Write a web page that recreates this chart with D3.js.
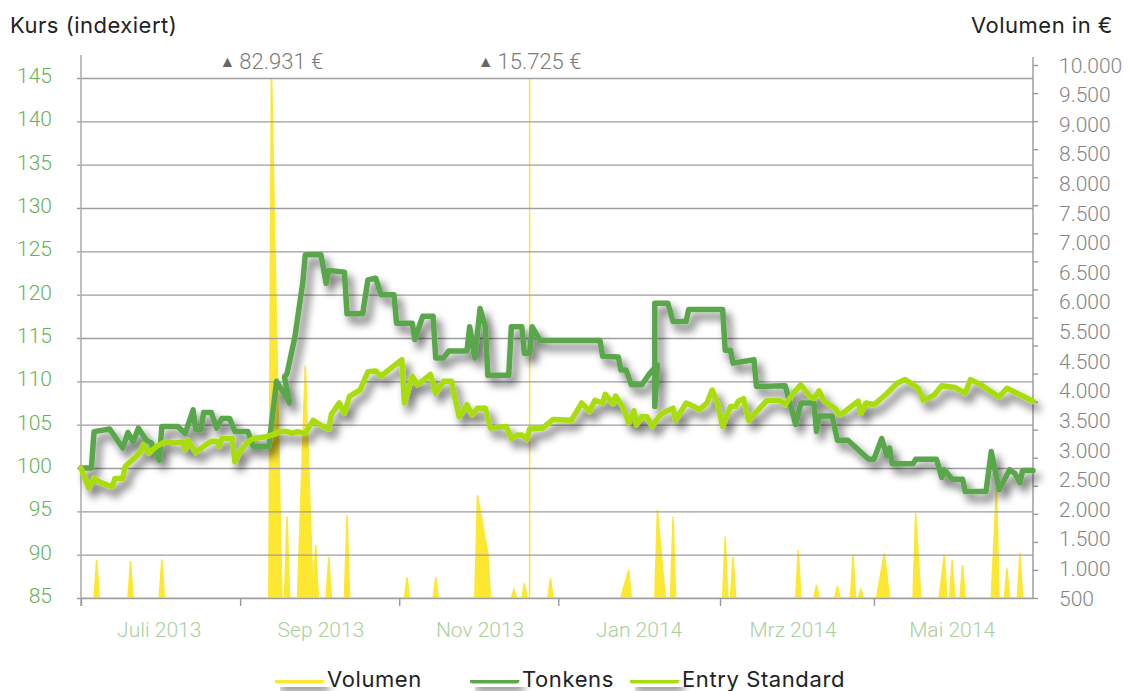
<!DOCTYPE html>
<html>

<head>
    <meta charset="utf-8">
    <title>Kurs und Volumen</title>
    <script src="https://d3js.org/d3.v7.min.js"></script>
    <style>
        body { margin: 0; background: #fff; }
        text { font-family: Inter, "Liberation Sans", Arial, sans-serif; }
        .num { font-family: Roboto, "Liberation Sans", sans-serif; font-weight: 300; letter-spacing: 0; }
    </style>
</head>

<body>
    <script>
        // indexed price, Tonkens
        const tonkens = [
            ['2013-06-01', 100.0], ['2013-06-05', 100.0], ['2013-06-06', 104.2], ['2013-06-12', 104.5],
            ['2013-06-17', 102.3], ['2013-06-19', 104.1], ['2013-06-21', 103.0], ['2013-06-23', 104.6],
            ['2013-06-26', 103.2], ['2013-06-28', 102.9], ['2013-07-01', 100.9], ['2013-07-02', 104.8],
            ['2013-07-08', 104.8], ['2013-07-11', 104.0], ['2013-07-14', 106.7], ['2013-07-15', 104.4],
            ['2013-07-17', 104.4], ['2013-07-18', 106.4], ['2013-07-21', 106.4], ['2013-07-23', 104.6],
            ['2013-07-25', 105.7], ['2013-07-28', 105.7], ['2013-07-30', 104.2], ['2013-08-04', 104.2],
            ['2013-08-06', 102.5], ['2013-08-12', 102.5], ['2013-08-15', 110.0], ['2013-08-20', 107.5],
            ['2013-08-18', 110.5], ['2013-08-19', 110.9], ['2013-08-22', 115.1], ['2013-08-25', 121.3],
            ['2013-08-26', 124.6], ['2013-09-01', 124.6], ['2013-09-03', 121.3], ['2013-09-04', 122.8],
            ['2013-09-10', 122.6], ['2013-09-11', 117.8], ['2013-09-17', 117.8], ['2013-09-19', 121.7],
            ['2013-09-22', 121.9], ['2013-09-24', 120.0], ['2013-09-29', 120.0], ['2013-09-30', 116.7],
            ['2013-10-06', 116.7], ['2013-10-07', 114.8], ['2013-10-10', 117.5], ['2013-10-14', 117.5],
            ['2013-10-15', 112.7], ['2013-10-18', 112.7], ['2013-10-20', 113.5], ['2013-10-27', 113.5],
            ['2013-10-28', 116.3], ['2013-10-30', 112.7], ['2013-11-01', 118.4], ['2013-11-03', 116.3],
            ['2013-11-04', 110.7], ['2013-11-12', 110.7], ['2013-11-13', 116.3], ['2013-11-17', 116.3],
            ['2013-11-18', 113.2], ['2013-11-20', 113.2], ['2013-11-21', 116.3], ['2013-11-24', 114.7],
            ['2013-12-17', 114.7], ['2013-12-18', 112.9], ['2013-12-24', 112.8], ['2013-12-25', 111.3],
            ['2013-12-27', 111.3], ['2013-12-29', 109.6], ['2014-01-02', 109.6], ['2014-01-05', 110.9],
            ['2014-01-08', 111.9], ['2014-01-07', 107.1], ['2014-01-07', 119.0], ['2014-01-12', 119.0],
            ['2014-01-14', 116.9], ['2014-01-19', 116.9], ['2014-01-20', 118.3], ['2014-02-02', 118.3],
            ['2014-02-03', 113.6], ['2014-02-05', 113.6], ['2014-02-06', 112.1], ['2014-02-14', 112.5],
            ['2014-02-15', 109.4], ['2014-02-26', 109.5], ['2014-02-28', 107.3], ['2014-03-02', 105.0],
            ['2014-03-04', 107.5], ['2014-03-09', 107.5], ['2014-03-10', 104.2], ['2014-03-11', 106.0],
            ['2014-03-16', 106.0], ['2014-03-18', 103.2], ['2014-03-22', 103.2], ['2014-03-30', 101.0],
            ['2014-04-01', 101.0], ['2014-04-04', 103.4], ['2014-04-06', 101.4], ['2014-04-07', 102.3],
            ['2014-04-08', 100.5], ['2014-04-16', 100.5], ['2014-04-17', 101.0], ['2014-04-25', 101.0],
            ['2014-04-27', 98.9], ['2014-04-28', 99.8], ['2014-05-01', 98.7], ['2014-05-05', 98.7],
            ['2014-05-06', 97.3], ['2014-05-14', 97.3], ['2014-05-16', 101.9], ['2014-05-19', 97.5],
            ['2014-05-23', 99.8], ['2014-05-25', 99.4], ['2014-05-27', 98.3], ['2014-05-28', 99.7],
            ['2014-06-01', 99.7]
        ]

        // indexed price, Entry Standard
        const entryStandard = [
            ['2013-06-01', 100.0], ['2013-06-04', 97.7], ['2013-06-06', 98.8], ['2013-06-08', 98.4],
            ['2013-06-13', 97.8], ['2013-06-14', 98.8], ['2013-06-17', 98.8], ['2013-06-18', 100.2],
            ['2013-06-22', 101.3], ['2013-06-24', 102.0], ['2013-06-25', 102.7], ['2013-06-27', 101.7],
            ['2013-06-30', 102.5], ['2013-07-03', 103.0], ['2013-07-05', 103.0], ['2013-07-07', 102.9],
            ['2013-07-10', 103.0], ['2013-07-11', 102.1], ['2013-07-12', 103.2], ['2013-07-15', 101.8],
            ['2013-07-18', 102.5], ['2013-07-21', 103.1], ['2013-07-23', 103.1], ['2013-07-24', 102.5],
            ['2013-07-25', 103.4], ['2013-07-29', 103.4], ['2013-07-30', 100.7], ['2013-08-01', 101.9],
            ['2013-08-04', 103.0], ['2013-08-06', 103.4], ['2013-08-11', 103.6], ['2013-08-14', 103.9],
            ['2013-08-16', 104.2], ['2013-08-19', 104.2], ['2013-08-21', 104.0], ['2013-08-23', 104.2],
            ['2013-08-26', 104.0], ['2013-08-29', 105.5], ['2013-09-01', 104.9], ['2013-09-04', 104.5],
            ['2013-09-05', 106.2], ['2013-09-08', 107.5], ['2013-09-10', 106.3], ['2013-09-12', 108.3],
            ['2013-09-16', 109.0], ['2013-09-19', 111.1], ['2013-09-22', 111.2], ['2013-09-24', 110.6],
            ['2013-10-02', 112.5], ['2013-10-03', 107.5], ['2013-10-06', 110.6], ['2013-10-08', 109.6],
            ['2013-10-13', 110.8], ['2013-10-15', 108.6], ['2013-10-18', 110.0], ['2013-10-21', 110.0],
            ['2013-10-24', 105.9], ['2013-10-27', 107.3], ['2013-10-29', 106.1], ['2013-10-31', 106.9],
            ['2013-11-03', 106.9], ['2013-11-05', 104.6], ['2013-11-11', 104.8], ['2013-11-13', 103.4],
            ['2013-11-15', 103.8], ['2013-11-17', 103.8], ['2013-11-19', 103.3], ['2013-11-20', 104.5],
            ['2013-11-25', 104.6], ['2013-11-29', 105.6], ['2013-12-06', 105.5], ['2013-12-10', 107.5],
            ['2013-12-13', 106.5], ['2013-12-15', 107.8], ['2013-12-18', 107.5], ['2013-12-19', 108.5],
            ['2013-12-22', 107.4], ['2013-12-23', 108.3], ['2013-12-26', 106.9], ['2013-12-28', 105.2],
            ['2013-12-30', 106.6], ['2013-12-31', 105.0], ['2014-01-02', 105.9], ['2014-01-04', 105.9],
            ['2014-01-06', 104.8], ['2014-01-09', 106.1], ['2014-01-11', 106.5], ['2014-01-14', 106.9],
            ['2014-01-15', 105.5], ['2014-01-19', 107.5], ['2014-01-22', 107.1], ['2014-01-24', 106.7],
            ['2014-01-27', 107.5], ['2014-01-29', 109.0], ['2014-01-31', 107.5], ['2014-02-02', 104.8],
            ['2014-02-05', 107.1], ['2014-02-07', 107.1], ['2014-02-08', 107.7], ['2014-02-10', 108.0],
            ['2014-02-12', 105.5], ['2014-02-15', 106.5], ['2014-02-19', 107.8], ['2014-02-21', 107.8],
            ['2014-02-24', 107.8], ['2014-02-26', 107.3], ['2014-03-01', 108.6], ['2014-03-04', 109.6],
            ['2014-03-07', 108.4], ['2014-03-09', 108.0], ['2014-03-11', 108.9], ['2014-03-13', 107.7],
            ['2014-03-17', 106.9], ['2014-03-19', 106.1], ['2014-03-26', 107.7], ['2014-03-27', 106.3],
            ['2014-03-29', 107.5], ['2014-04-01', 107.3], ['2014-04-06', 108.6], ['2014-04-10', 109.8],
            ['2014-04-13', 110.2], ['2014-04-17', 109.4], ['2014-04-18', 109.2], ['2014-04-20', 107.8],
            ['2014-04-24', 108.4], ['2014-04-27', 109.5], ['2014-05-02', 109.3], ['2014-05-06', 108.6],
            ['2014-05-08', 110.2], ['2014-05-12', 109.6], ['2014-05-16', 108.8], ['2014-05-19', 108.2],
            ['2014-05-22', 109.2], ['2014-05-26', 108.6], ['2014-06-01', 107.7]
        ]

        // traded volume in euro (days without trades = 0)
        const volumen = [
            ['2013-06-01', 0], ['2013-06-06', 0], ['2013-06-07', 1180], ['2013-06-08', 0],
            ['2013-06-19', 0], ['2013-06-20', 1160], ['2013-06-21', 0],
            ['2013-07-01', 0], ['2013-07-02', 1190], ['2013-07-03', 0],
            ['2013-08-12', 0], ['2013-08-13', 82931], ['2013-08-17', 0],
            ['2013-08-18', 0], ['2013-08-19', 1950], ['2013-08-20', 0],
            ['2013-08-23', 0], ['2013-08-26', 4640], ['2013-08-29', 0], ['2013-08-30', 1445], ['2013-08-31', 0],
            ['2013-09-03', 0], ['2013-09-04', 1236], ['2013-09-05', 0],
            ['2013-09-10', 0], ['2013-09-11', 1980], ['2013-09-12', 0],
            ['2013-10-03', 0], ['2013-10-04', 870], ['2013-10-05', 0],
            ['2013-10-14', 0], ['2013-10-15', 870], ['2013-10-16', 0],
            ['2013-10-30', 0], ['2013-10-31', 2336], ['2013-11-04', 1297], ['2013-11-05', 0],
            ['2013-11-13', 0], ['2013-11-14', 655], ['2013-11-15', 0],
            ['2013-11-17', 0], ['2013-11-18', 762], ['2013-11-19', 0],
            ['2013-11-20', 0], ['2013-11-20', 15725], ['2013-11-20', 0],
            ['2013-11-27', 0], ['2013-11-28', 851], ['2013-11-29', 0],
            ['2013-12-25', 0], ['2013-12-26', 680], ['2013-12-28', 999], ['2013-12-29', 0],
            ['2014-01-07', 0], ['2014-01-08', 2069], ['2014-01-11', 0],
            ['2014-01-13', 0], ['2014-01-14', 1950], ['2014-01-15', 0],
            ['2014-02-02', 0], ['2014-02-03', 1593], ['2014-02-04', 0],
            ['2014-02-05', 0], ['2014-02-06', 1236], ['2014-02-07', 0],
            ['2014-03-02', 0], ['2014-03-03', 1356], ['2014-03-04', 0],
            ['2014-03-09', 0], ['2014-03-10', 732], ['2014-03-11', 0],
            ['2014-03-17', 0], ['2014-03-18', 714], ['2014-03-19', 0],
            ['2014-03-23', 0], ['2014-03-24', 1267], ['2014-03-25', 0],
            ['2014-03-26', 0], ['2014-03-27', 655], ['2014-03-28', 0],
            ['2014-04-02', 0], ['2014-04-05', 1297], ['2014-04-07', 0],
            ['2014-04-16', 0], ['2014-04-17', 2010], ['2014-04-19', 0],
            ['2014-04-26', 0], ['2014-04-28', 1267], ['2014-04-29', 0],
            ['2014-04-30', 0], ['2014-05-01', 1177], ['2014-05-02', 0],
            ['2014-05-04', 0], ['2014-05-05', 1088], ['2014-05-06', 0],
            ['2014-05-16', 0], ['2014-05-18', 2456], ['2014-05-19', 0],
            ['2014-05-21', 0], ['2014-05-22', 1030], ['2014-05-23', 0],
            ['2014-05-26', 0], ['2014-05-27', 1297], ['2014-05-28', 0],
            ['2014-06-01', 0]
        ]

        // axes
        const kursTicks = [85, 90, 95, 100, 105, 110, 115, 120, 125, 130, 135, 140, 145]
        const volTicks = [500, 1000, 1500, 2000, 2500, 3000, 3500, 4000, 4500, 5000,
            5500, 6000, 6500, 7000, 7500, 8000, 8500, 9000, 9500, 10000]
        // labels as printed on the right axis (5.000 is missing in the original)
        const volLabels = [500, 1000, 1500, 2000, 2500, 3000, 3500, 4000, 4500,
            5500, 6000, 6500, 7000, 7500, 8000, 8500, 9000, 9500, 10000]
        const xTickDates = ['2013-06-01', '2013-08-01', '2013-10-01', '2013-12-01', '2014-02-01', '2014-04-01']
        const xLabelDates = ['2013-07-01', '2013-09-01', '2013-11-01', '2014-01-01', '2014-03-01', '2014-05-01']
        const xLabels = ['Juli 2013', 'Sep 2013', 'Nov 2013', 'Jan 2014', 'Mrz 2014', 'Mai 2014']
        const period = ['2013-06-01', '2014-06-01']

        const seriesNames = ['Volumen', 'Tonkens', 'Entry Standard']
        const seriesColors = ['#fde731', '#5aa64c', '#a9dc0c']

        const msm = {
            width: 1128,
            height: 691,
            left: 81,
            right: 1033,
            top: 78,
            bottom: 598
        }

        const parse = d3.timeParse('%Y-%m-%d')
        const de = d3.formatLocale({ decimal: ',', thousands: '.', grouping: [3], currency: ['', ' €'] })
        const fmt = de.format(',')

        let svg = d3.select('body')
            .append('svg')
            .attr('width', msm.width)
            .attr('height', msm.height)

        let defs = svg.append('defs')

        // soft grey drop shadow under the lines
        let shadow = defs.append('filter')
            .attr('id', 'shadow')
            .attr('filterUnits', 'userSpaceOnUse')
            .attr('x', 0).attr('y', 0)
            .attr('width', msm.width).attr('height', msm.height)
        shadow.append('feGaussianBlur').attr('in', 'SourceAlpha').attr('stdDeviation', 4).attr('result', 'blur')
        shadow.append('feOffset').attr('in', 'blur').attr('dx', 5).attr('dy', 7).attr('result', 'off')
        shadow.append('feComponentTransfer').attr('in', 'off').attr('result', 'soft')
            .append('feFuncA').attr('type', 'linear').attr('slope', 0.6)
        let merge = shadow.append('feMerge')
        merge.append('feMergeNode').attr('in', 'soft')
        merge.append('feMergeNode').attr('in', 'SourceGraphic')

        defs.append('clipPath')
            .attr('id', 'plot')
            .append('rect')
            .attr('x', msm.left).attr('y', msm.top)
            .attr('width', msm.right - msm.left).attr('height', msm.bottom - msm.top)

        // scales
        let x = d3.scaleTime()
            .domain(period.map(parse))
            .range([msm.left, msm.right])

        let y = d3.scaleLinear()
            .domain([85, 145])
            .range([msm.bottom, msm.top])

        let y2 = d3.scaleLinear()
            .domain([500, 10000])
            .range([msm.bottom, 65])
            .clamp(true)

        // volume area
        let area = d3.area()
            .x(d => x(parse(d[0])))
            .y0(msm.bottom)
            .y1(d => y2(d[1]))

        svg.append('path')
            .attr('clip-path', 'url(#plot)')
            .attr('d', area(volumen))
            .attr('fill', seriesColors[0])
            .attr('stroke', seriesColors[0])
            .attr('stroke-width', 1.5)

        // left axis with gridlines
        let leftAxis = svg.append('g')
            .attr('transform', 'translate(' + msm.left + ',0)')
            .call(d3.axisLeft(y)
                .tickValues(kursTicks)
                .tickSize(-(msm.right - msm.left))
                .tickPadding(29))
        leftAxis.select('.domain').remove()
        leftAxis.selectAll('line')
            .attr('x1', -4)
            .attr('stroke', '#9e9e9e')
            .attr('stroke-width', 1.4)
        leftAxis.selectAll('text')
            .attr('class', 'num')
            .attr('fill', '#66b257')
            .attr('font-size', 21)
            .attr('dy', '0.22em')

        svg.append('line')
            .attr('x1', msm.left).attr('x2', msm.left)
            .attr('y1', 55).attr('y2', msm.bottom + 8)
            .attr('stroke', '#aaa')
            .attr('stroke-width', 1.5)

        // right axis: tick marks
        let rightAxis = svg.append('g')
            .attr('transform', 'translate(' + msm.right + ',0)')
            .call(d3.axisRight(y2).tickValues(volTicks).tickSize(5).tickFormat(''))
        rightAxis.select('.domain')
            .attr('d', 'M0,57V' + msm.bottom)
            .attr('stroke', '#999')
            .attr('stroke-width', 1.4)
        rightAxis.selectAll('line').attr('stroke', '#999').attr('stroke-width', 1.4)

        // right axis labels, evenly spread as in the original
        let yLab = d3.scalePoint()
            .domain(volLabels)
            .range([msm.bottom, 65])

        svg.append('g')
            .selectAll('text')
            .data(volLabels)
            .enter()
            .append('text')
            .attr('class', 'num')
            .attr('x', 1059)
            .attr('y', d => yLab(d))
            .attr('dy', '0.36em')
            .attr('font-size', 21)
            .attr('fill', '#858585')
            .text(d => fmt(d))

        // x axis tick marks
        let xAxis = svg.append('g')
            .attr('transform', 'translate(0,' + msm.bottom + ')')
            .call(d3.axisBottom(x).tickValues(xTickDates.map(parse)).tickSize(8).tickFormat(''))
        xAxis.select('.domain').remove()
        xAxis.selectAll('line').attr('stroke', '#999').attr('stroke-width', 1.4)

        svg.append('g')
            .selectAll('text')
            .data(xLabelDates)
            .enter()
            .append('text')
            .attr('class', 'num')
            .attr('x', d => x(parse(d)))
            .attr('y', 637)
            .attr('text-anchor', 'middle')
            .attr('font-size', 21)
            .attr('fill', '#a8d19a')
            .text((d, i) => xLabels[i])

        // price lines
        let line = d3.line()
            .x(d => x(parse(d[0])))
            .y(d => y(d[1]))

        svg.append('g')
            .attr('filter', 'url(#shadow)')
            .selectAll('path')
            .data([tonkens, entryStandard])
            .enter()
            .append('path')
            .attr('d', d => line(d))
            .attr('fill', 'none')
            .attr('stroke', (d, i) => seriesColors[i + 1])
            .attr('stroke-width', 5.5)
            .attr('stroke-linejoin', 'round')
            .attr('stroke-linecap', 'round')

        // volumes beyond the scale
        let over = volumen.filter(d => d[1] > 10000)
        let note = svg.append('g')
            .selectAll('text')
            .data(over)
            .enter()
            .append('text')
            .attr('class', 'num')
            .attr('x', d => x(parse(d[0])))
            .attr('y', 69)
            .attr('text-anchor', 'middle')
            .attr('font-size', 22)
            .attr('fill', '#7b7b7b')
        note.append('tspan').attr('font-size', 16).attr('fill', '#666').attr('dy', -2).text('▲ ')
        note.append('tspan').attr('dy', 2).text(d => fmt(d[1]) + ' €')

        // titles
        svg.append('text')
            .attr('x', 10).attr('y', 33)
            .attr('font-size', 22)
            .attr('letter-spacing', 0.5)
            .attr('fill', '#222')
            .text('Kurs (indexiert)')

        svg.append('text')
            .attr('x', 1113).attr('y', 33)
            .attr('text-anchor', 'end')
            .attr('font-size', 22)
            .attr('letter-spacing', 0.5)
            .attr('fill', '#222')
            .text('Volumen in €')

        // legend
        const legendX = [275, 470, 630]
        let legend = svg.append('g')
            .selectAll('g')
            .data(seriesNames)
            .enter()
            .append('g')
            .attr('transform', (d, i) => 'translate(' + legendX[i] + ',680)')

        legend.append('line')
            .attr('x1', 3).attr('x2', 46)
            .attr('stroke', (d, i) => seriesColors[i])
            .attr('stroke-width', 7)
            .attr('stroke-linecap', 'round')
            .attr('filter', 'url(#shadow)')

        legend.append('text')
            .attr('x', 52)
            .attr('y', 7)
            .attr('font-size', 22)
            .attr('letter-spacing', 0.6)
            .attr('fill', '#222')
            .text(d => d)
    </script>
</body>
</html>
